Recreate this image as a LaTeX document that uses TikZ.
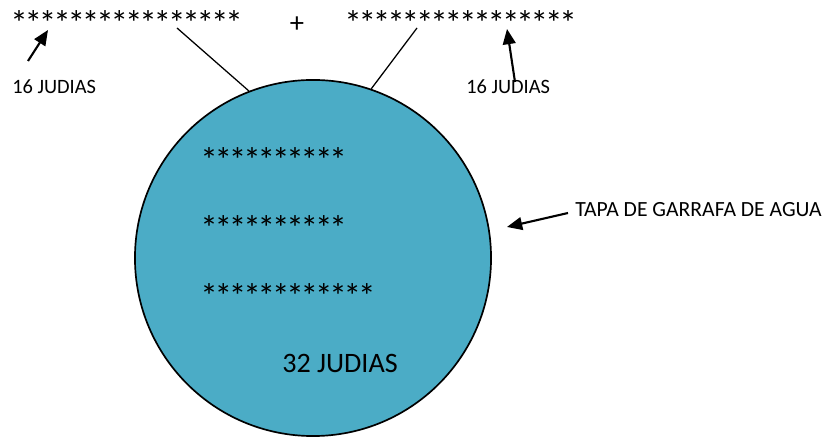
\documentclass[tikz,border=0pt]{standalone}
\usepackage{fontspec}
\setmainfont{Carlito}
\usepackage{xcolor}
\usepackage{tikz}
\usetikzlibrary{
  arrows.meta,
  positioning,
  calc}
\definecolor{agua}{HTML}{4BACC6}
\tikzset{every picture/.style={font issue=\fontsize{14.5}{17}},
         font issue/.style={execute at begin picture={#1\selectfont}},
         stars/.style={inner sep=0pt, anchor=base west, font=\fontsize{25}{29}\selectfont\addfontfeature{LetterSpace=-9}},
         small label/.style={inner sep=0pt, anchor=west},
         pointer/.style={line width=1.5pt, -{Triangle[length=0.38cm, width=0.32cm]}}
        }

\begin{document}
\begin{tikzpicture}[x=0.025cm, y=0.025cm]
\useasboundingbox (0,0) rectangle (827,439);

%Lid
\node[circle, draw, line width=1.2pt, fill=agua, minimum size=8.9cm, inner sep=0pt] (tapa) at (313,181) {};

\node[stars] at (200,266) (row1) {**********};
\node[stars] at (200,198) (row2) {**********};
\node[stars] at (200,130) (row3) {************};
\node[small label, font=\fontsize{20}{24}\selectfont] at (282,76) (total) {32 JUDIAS};



%Beans on top
\node[stars] at (10,403) (leftrow) {****************};
\node[font=\fontsize{20.3}{24}\selectfont, inner sep=0pt] at (297,414) (plus) {+};
\node[stars] at (344,403) (rightrow) {****************};

\coordinate (l0) at (177,411);
\coordinate (r0) at (417,411);
\draw[line width=0.9pt] (l0) -- (tapa.111);
\draw[line width=0.9pt] (r0) -- (tapa.71);



%Labels
\node[small label] at (12,352.5) (lab1) {16 JUDIAS};
\node[small label] at (466,352.5) (lab2) {16 JUDIAS};
\node[small label, font=\fontsize{15.4}{18}\selectfont] at (575,229) (taplab) {TAPA DE GARRAFA DE AGUA};

\coordinate (a1) at (28,378);
\coordinate (b1) at (48,409);
\coordinate (a2) at (515,357);
\coordinate (b2) at (507,410);
\coordinate (a3) at (568,226);
\coordinate (b3) at (507,212);

\draw[pointer] (a1) -- (b1);
\draw[pointer] (a2) -- (b2);
\draw[pointer] (a3) -- (b3);
\end{tikzpicture}
\end{document}
